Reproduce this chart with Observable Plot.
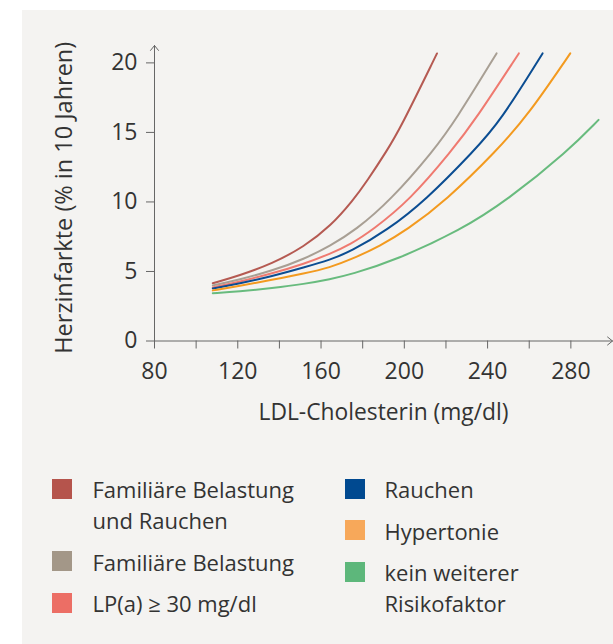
<!DOCTYPE html>
<html>
<head>
<meta charset="utf-8">
<script src="https://cdn.jsdelivr.net/npm/d3@7"></script>
<script src="https://cdn.jsdelivr.net/npm/@observablehq/plot@0.6"></script>
<style>
  html, body { margin: 0; padding: 0; background: #ffffff; }
  body { width: 613px; height: 644px; position: relative; overflow: hidden; font-family: "Open Sans", "Noto Sans", sans-serif; color: #333; }
  #panel { position: absolute; left: 22px; top: 10px; width: 591px; height: 634px; background: #f4f3f1; }
  #chart { position: absolute; left: 0; top: 0; }
  .sw { position: absolute; width: 20px; height: 20px; }
  .lg { position: absolute; font-size: 22px; line-height: 31px; white-space: nowrap; color: #333; }
</style>
</head>
<body>
<div id="panel"></div>
<div id="chart"></div>
<div id="legend"></div>
<script>
// ---- data ----
const seriesNames = ["Familiäre Belastung und Rauchen", "Familiäre Belastung", "LP(a) ≥ 30 mg/dl", "Rauchen", "Hypertonie", "kein weiterer Risikofaktor"];

const ldlFamRauchen = [108, 120.5, 136.5, 152, 164.5, 175.3, 182.1, 191.7, 198.1, 215.7];
const riskFamRauchen = [4.15, 4.7, 5.55, 6.8, 8.25, 10.1, 11.5, 13.7, 15.3, 20.68];

const ldlFam = [108, 120.5, 136.5, 152, 164.5, 176.5, 193.3, 214.1, 224.6, 244.3];
const riskFam = [4.0, 4.4, 5.05, 5.9, 6.85, 7.96, 10.1, 13.7, 15.87, 20.68];

const ldlLpa = [108, 120.5, 136.5, 152, 164.5, 174.1, 184.5, 202.5, 222.9, 234.1, 255];
const riskLpa = [3.85, 4.25, 4.85, 5.55, 6.28, 6.95, 7.96, 10.1, 13.7, 15.9, 20.68];

const ldlRauchen = [108, 120.5, 136.5, 152, 164.5, 174.1, 191.7, 210.1, 233.6, 246.1, 266.4];
const riskRauchen = [3.78, 4.12, 4.66, 5.3, 5.85, 6.42, 7.96, 10.1, 13.7, 15.8, 20.68];

const ldlHyper = [108, 120.5, 136.5, 152, 164.5, 174.1, 188.5, 201, 220, 244.5, 259.7, 279.7];
const riskHyper = [3.64, 3.95, 4.4, 4.85, 5.3, 5.84, 6.85, 7.96, 10.1, 13.7, 16.3, 20.68];

const ldlKein = [108, 120.5, 136.5, 152, 164.5, 174.1, 196.5, 226.9, 249.3, 278.9, 293.3];
const riskKein = [3.44, 3.56, 3.8, 4.1, 4.45, 4.77, 5.85, 7.96, 10.1, 13.7, 15.9];

const lineColors = ["#b55a52", "#a89f94", "#ef7a70", "#0b4d92", "#f39a1f", "#68bb7e"];
const legendColors = ["#b5544c", "#a39788", "#ec6e65", "#004990", "#f7a85a", "#5db77b"];
const legendLines = [["Familiäre Belastung", "und Rauchen"], ["Familiäre Belastung"], ["LP(a) ≥ 30 mg/dl"], ["Rauchen"], ["Hypertonie"], ["kein weiterer", "Risikofaktor"]];

const xDomain = [80, 300];
const yDomain = [0, 21.25];
const xTicks = [80, 100, 120, 140, 160, 180, 200, 220, 240, 260, 280];
const xTickLabels = [80, 120, 160, 200, 240, 280];
const yTicks = [0, 5, 10, 15, 20];
const xLabel = "LDL-Cholesterin (mg/dl)";
const yLabel = "Herzinfarkte (% in 10 Jahren)";

// ---- build table ----
const xsList = [ldlFamRauchen, ldlFam, ldlLpa, ldlRauchen, ldlHyper, ldlKein];
const ysList = [riskFamRauchen, riskFam, riskLpa, riskRauchen, riskHyper, riskKein];
const rows = [];
seriesNames.forEach((name, i) => {
  xsList[i].forEach((x, j) => rows.push({series: name, x, y: ysList[i][j]}));
});
const axisLines = [
  {x1: xDomain[0], y1: yDomain[0], x2: xDomain[1], y2: yDomain[0]},
  {x1: xDomain[0], y1: yDomain[0], x2: xDomain[0], y2: yDomain[1]}
];

const font = "'Open Sans', 'Noto Sans', sans-serif";
const chart = Plot.plot({
  width: 613,
  height: 440,
  marginLeft: 154,
  marginRight: 1,
  marginTop: 45,
  marginBottom: 99.5,
  style: {background: "transparent", fontFamily: font, color: "#333", overflow: "visible"},
  x: {domain: xDomain},
  y: {domain: yDomain},
  color: {domain: seriesNames, range: lineColors},
  marks: [
    Plot.axisX({ticks: xTicks, tickSize: 8, tickPadding: 14, fontSize: 23, stroke: "#666", fill: "#333",
      tickFormat: d => xTickLabels.includes(d) ? String(d) : "", label: null}),
    Plot.axisY({ticks: yTicks, tickSize: 8, tickPadding: 9, fontSize: 23, stroke: "#666", fill: "#333", label: null}),
    Plot.arrow(axisLines, {x1: "x1", y1: "y1", x2: "x2", y2: "y2", stroke: "#666", strokeWidth: 1, headLength: 9.5, headAngle: 78}),
    Plot.line(rows, {x: "x", y: "y", z: "series", stroke: "series", strokeWidth: 2, curve: "basis"}),
    Plot.text([xLabel], {frameAnchor: "bottom", textAnchor: "middle", lineAnchor: "middle", dy: 71.5, fontSize: 22.8, fill: "#333"}),
    Plot.text([yLabel], {frameAnchor: "left", textAnchor: "middle", lineAnchor: "middle", rotate: -90, dx: -90, dy: 4.5, fontSize: 23.5, fill: "#333"})
  ]
});
document.getElementById("chart").append(chart);

// ---- legend ----
const legend = document.getElementById("legend");
const columns = [{items: [0, 1, 2], swatchX: 52, textX: 92.5}, {items: [3, 4, 5], swatchX: 344.5, textX: 384.5}];
const firstBaseline = 498.5, lineH = 31, itemGap = 10.5, fs = 22;
const baselineInBox = (lineH - 1.362 * fs) / 2 + 1.069 * fs;
columns.forEach(col => {
  let baseline = firstBaseline;
  col.items.forEach(i => {
    const sw = document.createElement("div");
    sw.className = "sw";
    sw.style.left = col.swatchX + "px";
    sw.style.top = (baseline - 20) + "px";
    sw.style.background = legendColors[i];
    legend.append(sw);
    const t = document.createElement("div");
    t.className = "lg";
    t.style.left = col.textX + "px";
    t.style.top = (baseline - baselineInBox) + "px";
    t.innerHTML = legendLines[i].join("<br>");
    legend.append(t);
    baseline += legendLines[i].length * lineH + itemGap;
  });
});
</script>
</body>
</html>
